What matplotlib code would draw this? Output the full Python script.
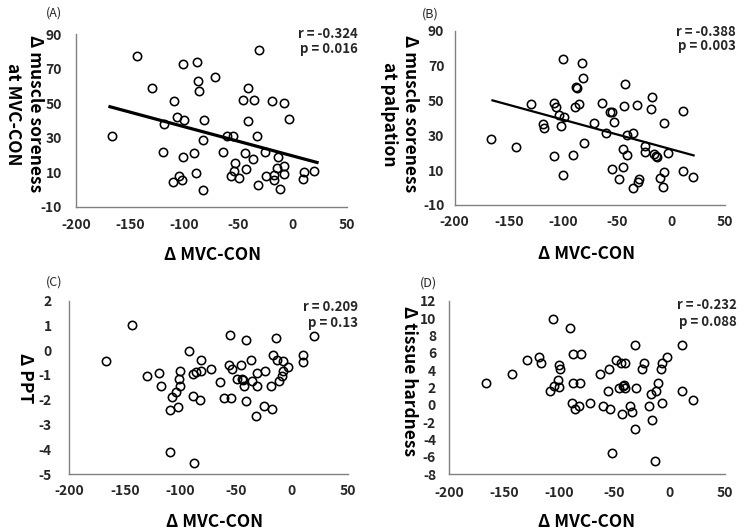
import matplotlib
matplotlib.use("Agg")
import matplotlib.pyplot as plt

plt.rcParams['font.family'] = ['Noto Sans CJK JP', 'DejaVu Sans']

# ---------------- data ----------------
x_ticks = [-200, -150, -100, -50, 0, 50]

a_x = [-167.1, -144.0, -130.1, -119.3, -118.4, -109.5, -110.1, -107.0, -104.9, -101.8,
       -101.5, -100.9, -100.2, -91.6, -88.5, -89.2, -87.6, -86.7, -83.0, -82.7,
       -81.5, -72.2, -64.5, -60.8, -57.1, -55.6, -54.7, -53.4, -49.8, -46.1,
       -44.5, -43.0, -41.7, -41.4, -37.1, -35.6, -33.1, -32.2, -31.6, -25.7,
       -24.8, -19.0, -17.7, -17.1, -13.7, -14.7, -11.6, -8.5, -7.9, -8.5,
       -3.6, 10.0, 9.7, 19.2]
a_y = [31, 77, 59, 21.7, 37.8, 51.3, 4.5, 42.2, 7.8, 5.5,
       72.6, 19, 40.3, 21, 74.1, 9.9, 63.1, 57.1, -0.3, 28.9,
       40.1, 65.4, 21.7, 31, 7.8, 31, 10.7, 15.7, 6.8, 51.9,
       21, 11.7, 59, 39.9, 17.9, 51.9, 31, 2.6, 80.5, 21.7,
       7.8, 51.3, 8.4, 5.5, 19, 12.8, 0.6, 13.8, 50.3, 8.8,
       40.9, 10.1, 5.9, 10.7]
a_fit_x = [-170.1, 23.8]
a_fit_y = [48.2, 15.5]

b_x = [-166.4, -143.3, -129.2, -118.4, -117.5, -108.6, -108.6, -106.1, -103.9, -101.5,
       -100.2, -100.2, -99.0, -91.0, -88.5, -87.9, -87.3, -85.5, -82.1, -81.8,
       -80.5, -71.3, -63.9, -59.9, -56.5, -54.7, -54.7, -52.5, -48.5, -44.2,
       -44.8, -43.6, -42.4, -40.5, -40.5, -35.6, -35.0, -31.3, -30.0, -30.4,
       -24.5, -23.9, -17.8, -18.4, -15.9, -13.7, -13.1, -10.0, -7.9, -7.0,
       -6.7, -2.9, 10.6, 10.6, 20.4]
b_y = [27.7, 23.1, 47.9, 36.5, 34, 18.3, 48.3, 46, 41.6, 35.5,
       73.7, 7.2, 40.7, 18.9, 46, 57.5, 57.3, 47.9, 71.6, 62.7,
       25.4, 37.2, 48.3, 31.5, 43.3, 43.3, 10.5, 37.8, 4.7, 12,
       21.9, 46.8, 59.2, 18.5, 30.2, 31.5, -0.4, 47.2, 5.1, 3,
       24, 20.4, 51.8, 45.1, 19.1, 18.1, 17.7, 5.7, 0.1, 9.1,
       37.2, 19.6, 9.5, 43.9, 6.1]
b_fit_x = [-166.1, 21.7]
b_fit_y = [50.2, 18.3]

c_x = [-166.8, -143.8, -130.0, -119.3, -117.5, -109.4, -109.4, -107.3, -104.3, -101.9,
       -101.0, -100.4, -100.1, -92.0, -89.1, -89.1, -87.6, -86.1, -82.5, -81.9,
       -81.6, -72.6, -64.5, -60.9, -56.8, -55.9, -55.0, -53.5, -49.6, -45.4,
       -44.5, -43.9, -43.0, -41.2, -41.2, -36.7, -35.5, -32.5, -31.3, -31.3,
       -24.5, -25.1, -19.1, -17.6, -17.0, -14.6, -13.4, -11.3, -8.6, -8.0,
       -7.7, -3.2, 9.9, 9.9, 19.5]
c_y = [-0.44, 1.02, -1.03, -0.91, -1.45, -2.40, -4.10, -1.89, -1.70, -2.28,
       -1.18, -1.45, -0.84, -0.05, -1.85, -0.95, -4.57, -0.88, -2.01, -0.85,
       -0.40, -0.77, -1.28, -1.94, -0.58, 0.60, -1.93, -0.77, -1.15, -0.60,
       -1.16, -1.20, -1.45, 0.40, -2.05, -0.40, -1.24, -2.66, -0.93, -1.45,
       -0.85, -2.25, -1.43, -2.37, -0.21, 0.51, -0.40, -1.24, -1.04, -0.83,
       -0.42, -0.68, -0.19, -0.49, 0.57]

d_x = [-166.4, -143.1, -129.5, -118.9, -116.8, -108.9, -106.2, -104.7, -101.4, -100.5,
       -100.2, -99.5, -90.8, -88.7, -88.0, -87.7, -85.9, -82.0, -81.1, -80.2,
       -72.0, -63.2, -60.2, -55.7, -54.8, -54.2, -52.6, -48.7, -45.7, -44.2,
       -43.6, -42.7, -41.8, -40.9, -40.3, -35.7, -34.5, -31.8, -31.2, -30.6,
       -24.8, -23.3, -18.5, -17.2, -16.0, -13.6, -12.4, -10.3, -8.2, -7.0,
       -6.7, -2.7, 11.2, 11.2, 21.2]
d_y = [2.46, 3.5, 5.15, 5.54, 4.85, 1.54, 9.85, 2.15, 2.85, 2.08,
       4.58, 4.12, 8.88, 0.15, 5.88, 2.46, -0.54, -0.15, 2.46, 5.88,
       0.15, 3.5, -0.15, 1.54, 4.15, -0.54, -5.54, 5.15, 1.88, 4.85,
       -1.12, 2.15, 2.27, 1.88, 4.85, -0.15, -0.81, 6.88, -2.85, 1.88,
       4.15, 4.85, -0.15, 1.23, -1.81, -6.46, 1.54, 2.46, 4.15, 4.85,
       0.15, 5.46, 6.88, 1.54, 0.5]

a_yticks = [-10, 10, 30, 50, 70, 90]
b_yticks = [-10, 10, 30, 50, 70, 90]
c_yticks = [-5, -4, -3, -2, -1, 0, 1, 2]
d_yticks = [-8, -6, -4, -2, 0, 2, 4, 6, 8, 10, 12]

panel_letters = ['(A)', '(B)', '(C)', '(D)']
y_labels = ['Δ muscle soreness\nat MVC-CON', 'Δ muscle soreness\nat palpation',
            'Δ PPT', 'Δ tissue hardness']
x_label = 'Δ MVC-CON'
r_texts = ['r = -0.324', 'r = -0.388', 'r = 0.209', 'r = -0.232']
p_texts = ['p = 0.016', 'p = 0.003', 'p = 0.13', 'p = 0.088']

# ---------------- layout ----------------
W, H = 744, 532
fig = plt.figure(figsize=(W / 100, H / 100), dpi=100)
fig.patch.set_facecolor('white')

def px_axes(l, t, r, b):
    return fig.add_axes([l / W, 1 - b / H, (r - l) / W, (b - t) / H])

TICK_COLOR = '#262626'
SPINE_COLOR = '#808080'

panels = [
    dict(box=(76, 34, 347, 207), xs=a_x, ys=a_y, yt=a_yticks, fit=(a_fit_x, a_fit_y, 2.3),
         ypad=10.0, xpad=8.0, letter=(54, 13), ylab=(24, 114), xlab=(213, 260),
         rpos=(358, 37.5, 53.5)),
    dict(box=(454.7, 30.7, 725.3, 205), xs=b_x, ys=b_y, yt=b_yticks, fit=(b_fit_x, b_fit_y, 1.6),
         ypad=7.5, xpad=7.0, letter=(430, 14), ylab=(399.5, 114), xlab=(587, 259),
         rpos=(736, 36, 50)),
    dict(box=(69, 300.7, 347.7, 474), xs=c_x, ys=c_y, yt=c_yticks, fit=None,
         ypad=12.5, xpad=7.5, letter=(54, 282), ylab=(24.5, 378), xlab=(215, 527),
         rpos=(358, 310.7, 326.7)),
    dict(box=(449.3, 300.7, 724.7, 474), xs=d_x, ys=d_y, yt=d_yticks, fit=None,
         ypad=9.5, xpad=8.5, letter=(428.5, 283), ylab=(408.5, 381), xlab=(587, 527),
         rpos=(737, 309.3, 326)),
]

for i, p in enumerate(panels):
    ax = px_axes(*p['box'])
    ax.plot(p['xs'], p['ys'], linestyle='none', marker='o', markersize=6.0,
            markerfacecolor='none', markeredgecolor='black', markeredgewidth=1.15,
            clip_on=False, zorder=3)
    if p['fit'] is not None:
        fx, fy, lw = p['fit']
        ax.plot(fx, fy, color='black', linewidth=lw, solid_capstyle='butt', zorder=2)
    ax.set_xlim(x_ticks[0], x_ticks[-1])
    ax.set_ylim(p['yt'][0], p['yt'][-1])
    ax.set_xticks(x_ticks)
    ax.set_yticks(p['yt'])
    ax.set_xticklabels([str(v) for v in x_ticks])
    ax.set_yticklabels([str(v) for v in p['yt']])
    for s in ['top', 'right']:
        ax.spines[s].set_visible(False)
    for s in ['left', 'bottom']:
        ax.spines[s].set_color(SPINE_COLOR)
        ax.spines[s].set_linewidth(1.0)
    ax.tick_params(axis='both', length=0, labelsize=10, labelcolor=TICK_COLOR)
    ax.tick_params(axis='y', pad=p['ypad'])
    ax.tick_params(axis='x', pad=p['xpad'])
    for lab in ax.get_xticklabels() + ax.get_yticklabels():
        lab.set_fontweight('bold')
    ax.set_facecolor('none')

    lx, ly = p['letter']
    fig.text(lx / W, 1 - ly / H, panel_letters[i], ha='center', va='center',
             fontsize=9, color='#262626')
    yx, yy = p['ylab']
    fig.text(yx / W, 1 - yy / H, y_labels[i], rotation=270, ha='center', va='center',
             fontsize=12.5, fontweight='bold', color='black', linespacing=1.25,
             multialignment='center')
    xx, xb = p['xlab']
    fig.text(xx / W, 1 - xb / H, x_label, ha='center', va='baseline',
             fontsize=12.5, fontweight='bold', color='black')
    rx, rb, pb = p['rpos']
    fig.text(rx / W, 1 - rb / H, r_texts[i], ha='right', va='baseline',
             fontsize=9.5, fontweight='bold', color='#262626')
    fig.text(rx / W, 1 - pb / H, p_texts[i], ha='right', va='baseline',
             fontsize=9.5, fontweight='bold', color='#262626')

fig.savefig('out.png', dpi=100)
